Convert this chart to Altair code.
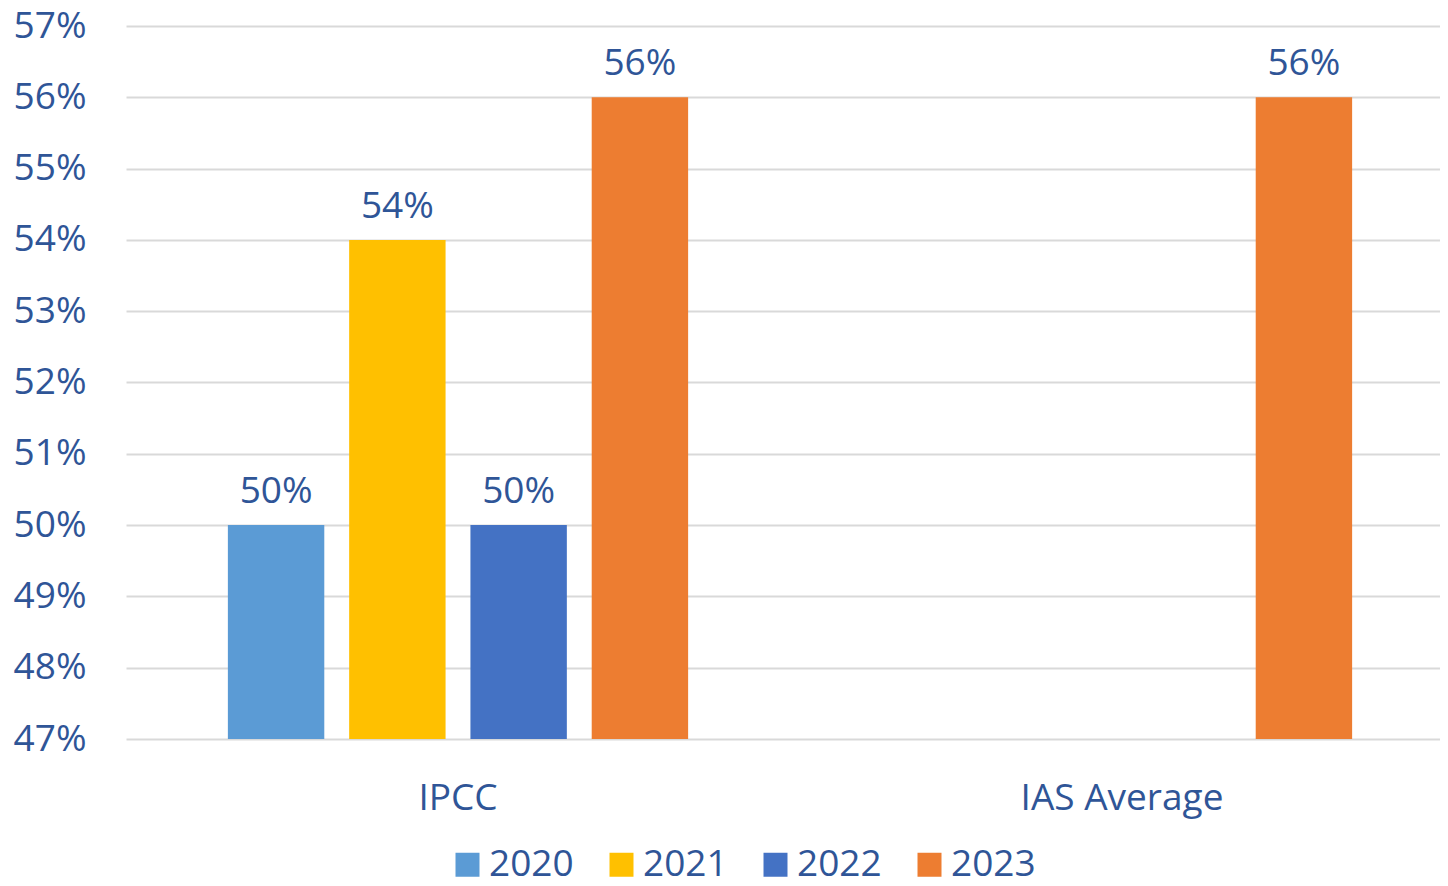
import altair as alt
import pandas as pd

groups = ["IPCC", "IPCC", "IPCC", "IPCC", "IAS Average"]
years = ["2020", "2021", "2022", "2023", "2023"]
values = [0.50, 0.54, 0.50, 0.56, 0.56]
labels = ["50%", "54%", "50%", "56%", "56%"]

year_domain = ["2020", "2021", "2022", "2023"]
year_colors = ["#5B9BD5", "#FFC000", "#4472C4", "#ED7D31"]
group_domain = ["IPCC", "IAS Average"]
y_ticks = [0.47, 0.48, 0.49, 0.50, 0.51, 0.52, 0.53, 0.54, 0.55, 0.56, 0.57]

df = pd.DataFrame({"group": groups, "year": years, "value": values, "label": labels})

FONT = "Open Sans"
TXT = "#2F5597"

x = alt.X("group:N", scale=alt.Scale(domain=group_domain, paddingInner=0, paddingOuter=0, range=[0, 1328]),
          axis=alt.Axis(title=None, labelAngle=0, domain=False, ticks=False, labelFontSize=37,
                        labelFont=FONT, labelColor=TXT, labelPadding=41, labelLimit=0, grid=False))
xo = alt.XOffset("year:N", scale=alt.Scale(domain=year_domain, paddingInner=0.205, paddingOuter=0.84))
y = alt.Y("value:Q", scale=alt.Scale(domain=[0.47, 0.57], zero=False, nice=False),
          axis=alt.Axis(title=None, values=y_ticks, format=".0%", domain=False, ticks=False,
                        labelFontSize=37, labelFont=FONT, labelColor=TXT, labelPadding=40,
                        gridColor="#D9D9D9", gridWidth=2))

bars = alt.Chart(df).mark_bar().encode(
    x=x, xOffset=xo, y=y, y2=alt.datum(0.47),
    color=alt.Color("year:N", scale=alt.Scale(domain=year_domain, range=year_colors),
                    legend=alt.Legend(title=None, orient="none", legendX=323, legendY=820,
                                      direction="horizontal", symbolType="square", symbolSize=576,
                                      symbolStrokeWidth=0, labelFontSize=37, labelFont=FONT,
                                      labelColor=TXT, columnPadding=29, labelOffset=3)),
)

text = alt.Chart(df).mark_text(baseline="alphabetic", dy=-22, fontSize=37, font=FONT, color=TXT).encode(
    x=x, xOffset=xo, y=y, text="label:N"
)

chart = (bars + text).properties(
    width=1314, height=713,
    autosize=alt.AutoSizeParams(type="none"),
    padding={"left": 118, "top": 18, "right": 0, "bottom": 139},
).configure_view(stroke=None)

chart.save("out.html", embed_options={"renderer": "svg", "actions": False})
